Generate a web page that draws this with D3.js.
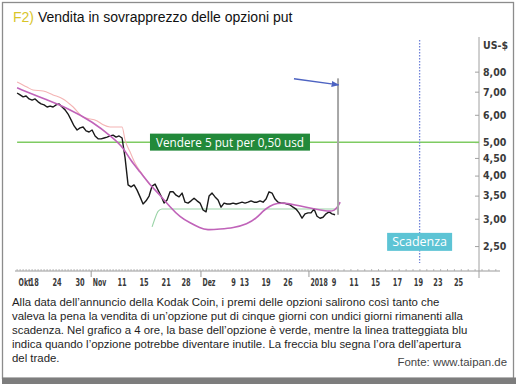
<!DOCTYPE html>
<html><head><meta charset="utf-8">
<script src="https://cdn.jsdelivr.net/npm/d3@7/dist/d3.min.js"></script>
<style>
html,body{margin:0;padding:0;background:#fff;}
svg{display:block;}
</style></head>
<body>
<svg id="c" width="518" height="384"></svg>
<script>
// ---- data (4-hour bars, index = bar number) ----
const closes = [
  6.94,6.85,6.76,6.80,6.67,6.62,6.67,6.54,6.45,6.41,
  6.32,6.36,6.32,6.41,6.45,6.32,6.20,6.03,5.80,5.57,
  5.42,5.50,5.53,5.39,5.35,5.42,5.21,5.11,5.11,5.14,
  5.17,5.21,5.24,5.17,5.21,5.14,4.50,3.76,3.71,3.76,
  3.63,3.47,3.31,3.38,3.49,3.73,3.78,3.63,3.49,3.33,
  3.40,3.59,3.59,3.51,3.47,3.56,3.35,3.33,3.38,3.44,
  3.38,3.33,3.18,3.14,3.49,3.56,3.47,3.40,3.24,3.33,
  3.31,3.31,3.33,3.31,3.33,3.35,3.33,3.35,3.38,3.35,
  3.35,3.38,3.35,3.42,3.59,3.56,3.42,3.35,3.33,3.33,
  3.31,3.29,3.24,3.20,3.12,3.01,3.10,3.12,3.12,3.20,
  3.05,3.01,3.03,3.10,3.14,3.10,3.08
];
const spikeBar = 107, spikeLow = 3.08, spikeHigh = 7.65;

const maIdx = [0,10,16.7,25.3,32,35.3,37.7,41,44.3,47.7,51,54.3,57.7,61,63.3,67.7,72,76.7,80,82,84.3,86.7,89.3,92.7,96,99.3,102.7,106,107.7];
const maVal = [7.18,6.62,6.28,5.72,5.14,4.84,4.44,4.10,3.76,3.51,3.245,3.035,2.916,2.82,2.78,2.80,2.82,2.89,3.02,3.16,3.27,3.33,3.33,3.29,3.245,3.20,3.16,3.14,3.35];

const bandIdx = [0,3.3,5.3,8.7,12,15.3,18.7,22,26.7,28.7,31,35,36,37.7,39.3,41,44.3];
const bandVal = [7.47,7.22,7.08,7.03,6.85,6.67,6.32,5.91,5.76,5.61,5.53,5.53,5.07,4.68,4.35,4.12,3.76];

const baseIdx = [45,46,47,48.3,107];
const baseVal = [2.84,3.01,3.15,3.20,3.20];

const strikePrice = 5.0;
const expiryIdx = 134.2;
const tradeLabel = "Vendere 5 put per 0,50 usd";
const expiryLabel = "Scadenza";

const dayTickIdx = [5.7,13.3,21,35,42.3,49.7,56.3,72.2,75.8,83,90.3,105.7,112.3,119.5,126.8,133.8,140.3,147.2];
const dayTickLbl = ["18","24","30","11","15","21","28","9","13","19","26","9","11","15","17","19","23","25"];
const monthIdx = [0,24.7,61.3,97.3];
const monthLbl = ["Okt","Nov","Dez","2018"];
const yTicks = [2.5,3,3.5,4,4.5,5,6,7,8];

const title1 = "F2)", title2 = " Vendita in sovrapprezzo delle opzioni put";
const caption = [
 "Alla data dell\u2019annuncio della Kodak Coin, i premi delle opzioni salirono così tanto che",
 "valeva la pena la vendita di un\u2019opzione put di cinque giorni con undici giorni rimanenti alla",
 "scadenza. Nel grafico a 4 ore, la base dell\u2019opzione è verde, mentre la linea tratteggiata blu",
 "indica quando l\u2019opzione potrebbe diventare inutile. La freccia blu segna l\u2019ora dell\u2019apertura",
 "del trade."
];
const source = "Fonte: www.taipan.de";

// ---- drawing ----
const svg = d3.select("#c");
svg.append("rect").attr("x",2.5).attr("y",2.5).attr("width",511).attr("height",376)
  .attr("fill","#fff").attr("stroke","#8c8c8c").attr("stroke-width",1.3);
svg.append("rect").attr("x",2).attr("y",377.5).attr("width",514).attr("height",6.5).attr("fill","#7d7d7d");

const t = svg.append("text").attr("x",13).attr("y",21.5)
  .style("font-family","'Liberation Sans', Arial, sans-serif").style("font-size","14px");
t.append("tspan").text(title1).attr("fill","#d8c52a");
t.append("tspan").text(title2).attr("fill","#111");

const x = d3.scaleLinear().domain([-0.7,161]).range([15,500]);
const y = d3.scaleLog().domain([2.117,9.88]).range([271,40]);
const axisFont = "'Liberation Sans Narrow','DejaVu Sans Condensed',sans-serif";

// x axis
const xa = svg.append("g").attr("transform","translate(0,271)");
xa.append("line").attr("x1",x(-0.7)).attr("x2",x(161)).attr("stroke","#9a9a9a").attr("stroke-width",1);
const minor = d3.range(0,108,1).concat(d3.range(109,161,2.3));
xa.selectAll("line.mn").data(minor).join("line").attr("class","mn")
  .attr("x1",d=>x(d)).attr("x2",d=>x(d)).attr("y1",-2).attr("y2",0).attr("stroke","#a8a8a8").attr("stroke-width",0.8);
xa.selectAll("line.mj").data(monthIdx.slice(1)).join("line").attr("class","mj")
  .attr("x1",d=>x(d)).attr("x2",d=>x(d)).attr("y1",0).attr("y2",6).attr("stroke","#9a9a9a");
xa.selectAll("text.day").data(dayTickIdx).join("text").attr("class","day")
  .attr("transform",d=>`translate(${x(d)},15) scale(0.7,1)`).attr("text-anchor","middle")
  .style("font-family",axisFont).style("font-size","10.5px").style("font-weight",600).attr("fill","#3a3a3a")
  .text((d,k)=>dayTickLbl[k]);
xa.selectAll("text.mon").data(monthIdx).join("text").attr("class","mon")
  .attr("transform",d=>`translate(${x(d)+1.5},15) scale(0.66,1)`).attr("text-anchor","start")
  .style("font-family",axisFont).style("font-size","10.5px").style("font-weight",600).attr("fill","#3a3a3a")
  .text((d,k)=>monthLbl[k]);

// y axis
const ya = svg.append("g").attr("transform",`translate(${x(161)-21},0)`);
ya.append("line").attr("x1",0).attr("x2",0).attr("y1",37).attr("y2",278).attr("stroke","#a0a0a0");
ya.call(d3.axisRight(y).tickValues(yTicks).tickSizeInner(-4).tickSizeOuter(0).tickPadding(4)
  .tickFormat(d=>d.toFixed(2).replace(".",",")));
ya.select(".domain").remove();
ya.selectAll(".tick line").attr("stroke","#a0a0a0");
ya.selectAll(".tick text").style("font-family",axisFont).style("font-size","10.5px").style("font-weight",600).attr("fill","#3a3a3a");
ya.append("text").attr("x",4).attr("y",49).text("US-$")
  .style("font-family",axisFont).style("font-size","10.5px").style("font-weight",600).attr("fill","#3a3a3a");

// strike line
svg.append("line").attr("x1",x(0)).attr("x2",x(161)-21).attr("y1",y(strikePrice)).attr("y2",y(strikePrice))
  .attr("stroke","#7fcb62").attr("stroke-width",1.5);

// expiry dotted line
svg.append("line").attr("x1",x(expiryIdx)).attr("x2",x(expiryIdx)).attr("y1",y(9.88)).attr("y2",y(2.233))
  .attr("stroke","#6f82d8").attr("stroke-width",1.3).attr("stroke-dasharray","1.5,1.5");

const lineXY = (idx, val) => d3.line().x((d,k)=>x(idx[k])).y((d,k)=>y(val[k])).curve(d3.curveMonotoneX);

// option base (green)
svg.append("path").attr("d", lineXY(baseIdx,baseVal)(baseVal)).attr("fill","none")
  .attr("stroke","#9bd4a8").attr("stroke-width",1.1);
// upper band (light pink)
svg.append("path").attr("d", lineXY(bandIdx,bandVal)(bandVal)).attr("fill","none")
  .attr("stroke","#f4b4b4").attr("stroke-width",1.1);
// price
svg.append("path").attr("d", d3.line().x((d,i)=>x(i)).y(d=>y(d))(closes)).attr("fill","none")
  .attr("stroke","#1a1a1a").attr("stroke-width",1.4).attr("stroke-linejoin","round");
// moving average (magenta)
svg.append("path").attr("d", d3.line().x((d,k)=>x(maIdx[k])).y(d=>y(d)).curve(d3.curveBasis)(maVal)).attr("fill","none")
  .attr("stroke","#c063b9").attr("stroke-width",1.6);
// spike bar
svg.append("line").attr("x1",x(spikeBar)).attr("x2",x(spikeBar)).attr("y1",y(spikeLow)).attr("y2",y(spikeHigh))
  .attr("stroke","#a6a6a6").attr("stroke-width",2);

// arrow
const defs = svg.append("defs");
defs.append("marker").attr("id","ah").attr("viewBox","0 0 10 10").attr("refX",9).attr("refY",5)
  .attr("markerWidth",6).attr("markerHeight",6).attr("orient","auto")
  .append("path").attr("d","M0,1 L10,5 L0,9 z").attr("fill","#4d63c2");
svg.append("line").attr("x1",x(92.3)).attr("y1",y(7.63)).attr("x2",x(107.2)).attr("y2",y(7.32))
  .attr("stroke","#4d63c2").attr("stroke-width",1.3).attr("marker-end","url(#ah)");

// trade label box
const bx = x(44.3), by = y(strikePrice);
svg.append("rect").attr("x",bx).attr("y",by-8.5).attr("width",160).attr("height",17).attr("fill","#22893a");
svg.append("text").attr("x",bx+6).attr("y",by+4.8).text(tradeLabel)
  .style("font-family","'Open Sans', sans-serif").style("font-size","13.5px").attr("fill","#fff")
  .attr("textLength",148).attr("lengthAdjust","spacingAndGlyphs");

// expiry label box
const ex = x(expiryIdx), ey = y(2.73);
svg.append("rect").attr("x",ex-32.5).attr("y",ey).attr("width",65).attr("height",18).attr("fill","#5dc4d5");
svg.append("text").attr("x",ex).attr("y",ey+13.3).attr("text-anchor","middle").text(expiryLabel)
  .style("font-family","'Open Sans', sans-serif").style("font-size","12.5px").attr("fill","#fff");

// caption
const cap = svg.append("text").style("font-family","'Liberation Sans', Arial, sans-serif").style("font-size","11.4px").attr("fill","#1e1e1e");
caption.forEach((s,k)=>cap.append("tspan").attr("x",12).attr("y",305.5+k*14.1).text(s));
svg.append("text").attr("x",507).attr("y",366).attr("text-anchor","end").text(source)
  .style("font-family","'Liberation Sans', Arial, sans-serif").style("font-size","11.4px").attr("fill","#444");
</script>
</body></html>
